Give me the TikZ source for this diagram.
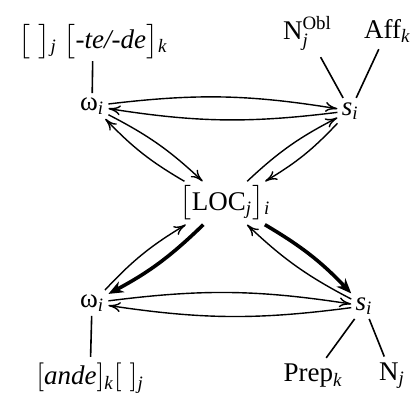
\documentclass[tikz,border=0pt]{standalone}
\usepackage{amsmath}
\usepackage{fontspec}
\setmainfont{Liberation Serif}
\usetikzlibrary{arrows.meta}

\begin{document}
\begin{tikzpicture}[
    every node/.style={font=\fontsize{13.5}{16}\selectfont, inner sep=2pt},
    morph/.style={inner sep=3pt},
    link/.style={line width=0.8pt},
    flow/.style={->, line width=0.7pt, bend left=8},
    heavy/.style={-{Stealth[length=7.5pt,width=6pt]}, line width=1.8pt, bend left=8},
    >={To[length=6pt,width=5pt]}
  ]
  \useasboundingbox (-3.954,-3.462) rectangle (3.321,3.567);
  % nudos principales
  \node (loc) at (0,0) {$\bigl[$LOC$_{\textit{j}}\bigr]{}_{\textit{i}}$};
  \node (wt) at (-2.337,1.705) {ω$_{\textit{i}}$};
  \node (st) at (2.2,1.62) {\textit{s}$_{\textit{i}}$};
  \node (wb) at (-2.337,-1.757) {ω$_{\textit{i}}$};
  \node (sb) at (2.443,-1.810) {\textit{s}$_{\textit{i}}$};
  % morfemas
  \node[morph, inner sep=1pt] (tede) at (-2.32,2.84) {$\bigl[\;\bigr]{}_{\textit{j}}$ $\bigl[$\textit{-te/-de}$\bigr]{}_{\textit{k}}$};
  \node[morph] (nobl) at (1.45,2.98) {N$^{\text{Obl}}_{\textit{j}}$};
  \node[morph] (aff) at (2.85,3.02) {Aff$_{\textit{k}}$};
  \node[morph] (ande) at (-2.372,-3.08) {$[$\textit{ande}$]_{\textit{k}}[\;]_{\textit{j}}$};
  \node[morph] (prep) at (1.546,-3.04) {Prep$_{\textit{k}}$};
  \node[morph] (nj) at (2.935,-3.04) {N$_{\textit{j}}$};
  % lineas del arbol
  \draw[link] (tede) -- (wt);
  \draw[link] (nobl) -- (st);
  \draw[link] (aff) -- (st);
  \draw[link] (ande) -- (wb);
  \draw[link] (prep) -- (sb);
  \draw[link] (nj) -- (sb);
  % flechas arriba
  \draw[flow] (wt) to (st);
  \draw[flow] (st) to (wt);
  \draw[flow] (wt) to (loc);
  \draw[flow] (loc) to (wt);
  \draw[flow] (loc) to (st);
  \draw[flow] (st) to (loc);
  % flechas abajo
  \draw[flow] (wb) to (sb);
  \draw[flow] (sb) to (wb);
  \draw[flow] (wb) to (loc);
  \draw[heavy] (loc) to (wb);
  \draw[heavy] (loc) to (sb);
  \draw[flow] (sb) to (loc);
\end{tikzpicture}
\end{document}
